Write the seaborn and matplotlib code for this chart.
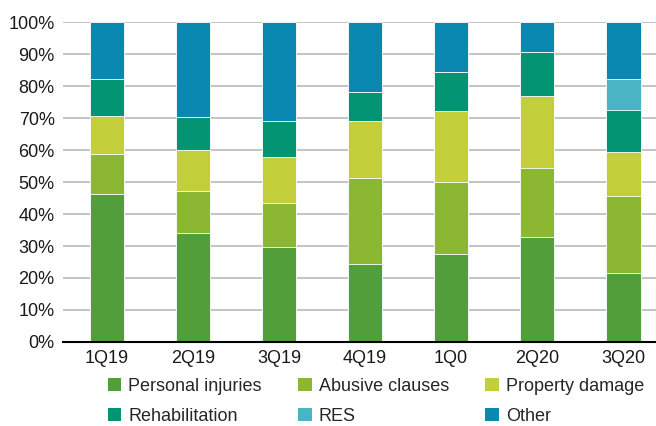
import numpy as np
import pandas as pd
import matplotlib
matplotlib.use("Agg")
import matplotlib.pyplot as plt
import seaborn as sns
from matplotlib.patches import Patch

quarters = ["1Q19", "2Q19", "3Q19", "4Q19", "1Q0", "2Q20", "3Q20"]
personal_injuries = [46.1, 34.2, 29.8, 24.4, 27.5, 32.7, 21.6]
abusive_clauses   = [12.5, 13.1, 13.5, 27.0, 22.6, 21.8, 23.9]
property_damage   = [12.1, 12.7, 14.6, 17.7, 22.1, 22.4, 13.9]
rehabilitation    = [11.4, 10.4, 11.2, 9.0, 12.2, 13.8, 13.1]
res               = [0.0, 0.0, 0.0, 0.0, 0.0, 0.0, 9.7]
other             = [17.9, 29.6, 30.9, 21.9, 15.6, 9.3, 17.8]

series_names = ["Personal injuries", "Abusive clauses", "Property damage",
                "Rehabilitation", "RES", "Other"]
series_vals = [personal_injuries, abusive_clauses, property_damage,
               rehabilitation, res, other]
colors = ["#529E3A", "#8BB733", "#C2CF3A", "#039474", "#4AB4C4", "#0A88B2"]

sns.set_style("white")
plt.rcParams['font.family'] = ['Liberation Sans', 'DejaVu Sans']

fig = plt.figure(figsize=(6.56, 4.26), dpi=100)
ax = fig.add_axes([63/656, 84/426, 1 - 63/656, 320/426])

cum = np.cumsum(np.array(series_vals), axis=0)
for i in range(len(series_names) - 1, -1, -1):
    df = pd.DataFrame({"q": quarters, "v": cum[i]})
    sns.barplot(data=df, x="q", y="v", order=quarters, color=colors[i],
                width=0.4, saturation=1, edgecolor="white", linewidth=0.6,
                ax=ax, zorder=3)

ax.set_ylim(0, 100)
ax.set_xlim(-0.51, 6.38)
ax.set_yticks(np.arange(0, 101, 10))
ax.set_yticklabels([f"{t}%" for t in range(0, 101, 10)])
ax.yaxis.grid(True, color="#BFBFBF", linewidth=1.3, zorder=0)
ax.set_axisbelow(True)
for s in ["top", "right", "left"]:
    ax.spines[s].set_visible(False)
ax.spines["bottom"].set_color("black")
ax.spines["bottom"].set_linewidth(1.5)
ax.spines["bottom"].set_zorder(5)
ax.tick_params(axis="both", length=0, labelsize=13, colors="#1a1a1a", pad=6)
ax.tick_params(axis="y", pad=6)
ax.set_xlabel("")
ax.set_ylabel("")

handles = [Patch(facecolor=c, edgecolor="none") for c in colors]
order = [0, 3, 1, 4, 2, 5]
leg = fig.legend([handles[i] for i in order], [series_names[i] for i in order],
                 ncol=3, loc="center", bbox_to_anchor=(0.573, 0.058),
                 frameon=False, fontsize=13, handlelength=0.75, handleheight=0.75,
                 handletextpad=0.4, columnspacing=2.0, labelspacing=0.75)

fig.savefig("out.png", dpi=100)
